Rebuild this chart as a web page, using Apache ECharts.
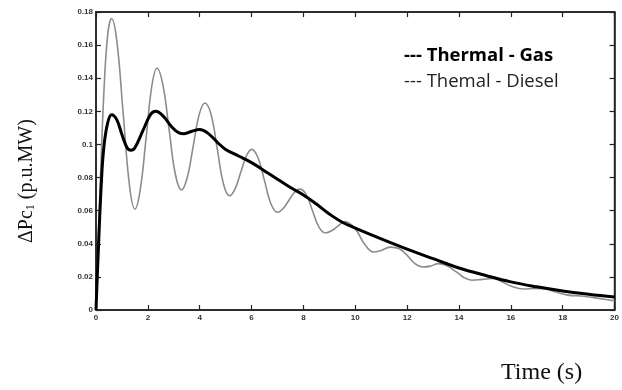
<!DOCTYPE html>
<html>
<head>
<meta charset="utf-8">
<script src="https://cdn.jsdelivr.net/npm/echarts@6/dist/echarts.min.js"></script>
<style>
  html, body { margin: 0; padding: 0; background: #fff; }
  #main { width: 622px; height: 390px; }
</style>
</head>
<body>
<div id="main"></div>
<script>
// 横轴刻度
var xTicks = [0, 2, 4, 6, 8, 10, 12, 14, 16, 18, 20];
// Thermal - Gas (粗黑线)
var gasX = [0, 0.1, 0.2, 0.3, 0.45, 0.6, 0.8, 1.0, 1.2, 1.35, 1.5, 1.8, 2.1, 2.3, 2.6, 2.9, 3.2, 3.4, 3.7, 4.0, 4.3, 4.7, 5.0, 5.5, 6.0, 6.5, 7.0, 7.5, 8.0, 8.5, 9.0, 9.5, 10.0, 11.0, 12.0, 13.0, 14.0, 15.0, 16.0, 17.0, 18.0, 19.0, 20.0];
var gasY = [0, 0.04, 0.075, 0.098, 0.113, 0.118, 0.115, 0.106, 0.098, 0.0965, 0.098, 0.108, 0.118, 0.120, 0.117, 0.111, 0.107, 0.1065, 0.108, 0.109, 0.107, 0.101, 0.097, 0.093, 0.089, 0.084, 0.079, 0.074, 0.0695, 0.064, 0.058, 0.053, 0.0495, 0.043, 0.0368, 0.031, 0.0254, 0.021, 0.017, 0.014, 0.0115, 0.0095, 0.0078];
// Themal - Diesel (细灰线)
var dieselX = [0, 0.15, 0.3, 0.45, 0.6, 0.8, 1.05, 1.3, 1.5, 1.7, 1.93, 2.15, 2.35, 2.58, 2.82, 3.06, 3.3, 3.52, 3.75, 3.98, 4.2, 4.44, 4.68, 4.92, 5.15, 5.36, 5.58, 5.8, 6.0, 6.25, 6.5, 6.75, 7.0, 7.2, 7.43, 7.65, 7.85, 8.1, 8.35, 8.6, 8.85, 9.1, 9.35, 9.6, 10.0, 10.35, 10.7, 11.0, 11.35, 11.7, 12.0, 12.3, 12.6, 12.9, 13.2, 13.5, 13.9, 14.2, 14.5, 14.9, 15.3, 15.6, 16.0, 16.5, 16.9, 17.3, 17.7, 18.2, 18.7, 19.2, 19.6, 20.0];
var dieselY = [0, 0.07, 0.13, 0.166, 0.176, 0.163, 0.1185, 0.074, 0.061, 0.072, 0.1035, 0.135, 0.146, 0.136, 0.109, 0.082, 0.0725, 0.08, 0.099, 0.118, 0.125, 0.118, 0.097, 0.076, 0.069, 0.073, 0.083, 0.093, 0.097, 0.092, 0.078, 0.064, 0.059, 0.061, 0.066, 0.071, 0.073, 0.07, 0.06, 0.05, 0.0465, 0.048, 0.051, 0.0535, 0.049, 0.04, 0.035, 0.036, 0.038, 0.037, 0.033, 0.028, 0.026, 0.0265, 0.028, 0.027, 0.023, 0.0195, 0.018, 0.0185, 0.019, 0.0175, 0.0145, 0.0127, 0.013, 0.0128, 0.011, 0.009, 0.0085, 0.0075, 0.0065, 0.0055];

function pairs(xs, ys) {
    var out = [];
    for (var i = 0; i < xs.length; i++) {
        out.push([xs[i], ys[i]]);
    }
    return out;
}

var chart = echarts.init(document.getElementById('main'));
var tickStyle = {show: true, inside: true, length: 5, lineStyle: {color: '#222', width: 1.2}};
var lineAxis = {show: true, onZero: false, lineStyle: {color: '#222', width: 1.5}};
var labelStyle = {fontSize: 8, fontWeight: 'bold', color: '#333', fontFamily: 'Liberation Sans'};

chart.setOption({
    animation: false,
    grid: {left: 96, right: 7, top: 12, bottom: 80, show: true, borderColor: '#222', borderWidth: 1.5},
    xAxis: [{
        type: 'value', min: 0, max: 20, interval: 2,
        axisLine: lineAxis, axisTick: tickStyle,
        axisLabel: Object.assign({margin: 4, customValues: xTicks}, labelStyle),
        splitLine: {show: false}
    }, {
        type: 'value', min: 0, max: 20, interval: 2, position: 'top',
        axisLine: lineAxis, axisTick: tickStyle,
        axisLabel: {show: false}, splitLine: {show: false}
    }],
    yAxis: [{
        type: 'value', min: 0, max: 0.18, interval: 0.02,
        axisLine: lineAxis, axisTick: tickStyle,
        axisLabel: Object.assign({margin: 3}, labelStyle),
        splitLine: {show: false}
    }, {
        type: 'value', min: 0, max: 0.18, interval: 0.02, position: 'right',
        axisLine: lineAxis, axisTick: tickStyle,
        axisLabel: {show: false}, splitLine: {show: false}
    }],
    series: [{
        name: 'Themal - Diesel',
        type: 'line',
        data: pairs(dieselX, dieselY),
        smooth: 0.4,
        showSymbol: false,
        lineStyle: {color: '#8c8c8c', width: 1.6},
        z: 2
    }, {
        name: 'Thermal - Gas',
        type: 'line',
        data: pairs(gasX, gasY),
        smooth: 0.4,
        showSymbol: false,
        lineStyle: {color: '#000', width: 3},
        z: 3
    }],
    graphic: [{
        type: 'text', left: 404, top: 46,
        style: {text: '--- Thermal - Gas', fontSize: 18.5, fontWeight: 'bold', fill: '#000', fontFamily: 'Open Sans'}
    }, {
        type: 'text', left: 404, top: 72,
        style: {text: '--- Themal - Diesel', fontSize: 18.5, fill: '#222', fontFamily: 'Open Sans'}
    }, {
        type: 'text', left: 501, top: 361,
        style: {text: 'Time (s)', fontSize: 24, fill: '#111', fontFamily: 'Liberation Serif'}
    }, {
        type: 'text', x: 17, y: 243, rotation: Math.PI / 2,
        style: {
            text: '{a|ΔPc}{s|1}{a| (p.u.MW)}',
            rich: {
                a: {fontSize: 20, fill: '#111', fontFamily: 'Liberation Serif'},
                s: {fontSize: 12, fill: '#111', fontFamily: 'Liberation Serif', padding: [8, 0, 0, 0]}
            }
        }
    }]
});
</script>
</body>
</html>
